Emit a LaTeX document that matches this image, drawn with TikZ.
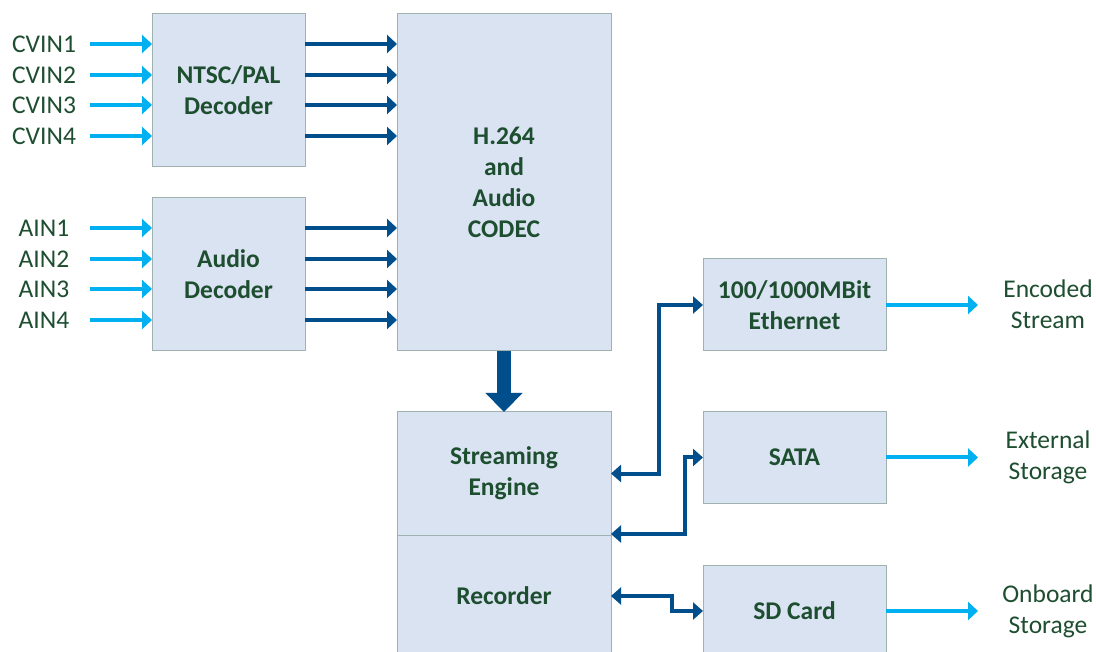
\documentclass[tikz,border=0pt]{standalone}
\usepackage{fontspec}
\setmainfont{Carlito}
\usetikzlibrary{arrows.meta,calc}
\definecolor{boxfill}{RGB}{218,227,242}
\definecolor{boxline}{RGB}{160,178,176}
\definecolor{txt}{RGB}{30,78,48}
\definecolor{light}{RGB}{0,176,240}
\definecolor{dark}{RGB}{0,78,140}
\tikzset{
  blk/.style={draw=boxline, fill=boxfill, line width=1pt, inner sep=0pt, outer sep=0pt,
    font=\fontsize{25.5}{31}\selectfont\bfseries, text=txt, align=center},
  lbl/.style={inner sep=0pt, font=\fontsize{25.5}{31}\selectfont, text=txt, align=center},
  lin/.style={draw=light, line width=4pt, -{Triangle[length=10pt,width=18pt]}},
  dk/.style={draw=dark, line width=4pt, -{Triangle[length=10pt,width=18pt]}},
  dbl/.style={draw=dark, line width=4pt, {Triangle[length=10pt,width=17pt]}-{Triangle[length=10pt,width=17pt]}},
  big/.style={draw=dark, line width=14pt, -{Triangle[length=19pt,width=36pt]}}
}
\begin{document}
\begin{tikzpicture}[x=1pt,y=-1pt]
\clip (0,0) rectangle (1096,652);
\fill[white] (0,0) rectangle (1096,652);
% blocks
\node[blk, minimum width=153pt, minimum height=153pt] (ntsc) at (228.5,90.5) {NTSC/PAL\\Decoder};
\node[blk, minimum width=153pt, minimum height=153pt] (aud) at (228.5,274.5) {Audio\\Decoder};
\node[blk, minimum width=214pt, minimum height=337pt] (codec) at (504,182.5) {H.264\\and\\Audio\\CODEC};
\node[blk, minimum width=214pt, minimum height=123pt] (se) at (504,473.5) {Streaming\\Engine};
\node[blk, minimum width=214pt, minimum height=122pt] (rec) at (504,596) {Recorder};
\node[blk, minimum width=183pt, minimum height=92pt] (eth) at (794.5,305) {100/1000MBit\\Ethernet};
\node[blk, minimum width=183pt, minimum height=91pt] (sata) at (794.5,457.5) {SATA};
\node[blk, minimum width=183pt, minimum height=92pt] (sd) at (794.5,611) {SD Card};
% input labels
\node[lbl] (c1) at (44,44) {CVIN1};
\node[lbl] (c2) at (44,75) {CVIN2};
\node[lbl] (c3) at (44,105) {CVIN3};
\node[lbl] (c4) at (44,136) {CVIN4};
\node[lbl] (a1) at (44,228) {AIN1};
\node[lbl] (a2) at (44,259) {AIN2};
\node[lbl] (a3) at (44,289) {AIN3};
\node[lbl] (a4) at (44,320) {AIN4};
\foreach \n in {c1,c2,c3,c4}{
  \coordinate (s\n) at (90,0 |- \n);
  \draw[lin] (s\n) -- (\n -| ntsc.west);
  \draw[dk] (\n -| ntsc.east) -- (\n -| codec.west);
}
\foreach \n in {a1,a2,a3,a4}{
  \coordinate (s\n) at (90,0 |- \n);
  \draw[lin] (s\n) -- (\n -| aud.west);
  \draw[dk] (\n -| aud.east) -- (\n -| codec.west);
}
% big arrow
\draw[big] (codec.south) -- (se.north);
% outputs
\node[lbl] (o1) at (1048,304.5) {Encoded\\Stream};
\node[lbl] (o2) at (1048,457.5) {External\\Storage};
\node[lbl] (o3) at (1048,611) {Onboard\\Storage};
\coordinate (e1) at (978,305);
\coordinate (e2) at (978,457.5);
\coordinate (e3) at (978,611);
\draw[lin] (eth.east) -- (e1);
\draw[lin] (sata.east) -- (e2);
\draw[lin] (sd.east) -- (e3);
% bidirectional connectors
\draw[dbl] (se.east) -| ([xshift=-44pt]eth.west) -- (eth.west);
\draw[dbl] ([yshift=1pt]se.south east) -| ([xshift=-18pt]sata.west) -- (sata.west);
\draw[dbl] (rec.east) -| ([xshift=-31pt]sd.west) -- (sd.west);
\end{tikzpicture}
\end{document}
